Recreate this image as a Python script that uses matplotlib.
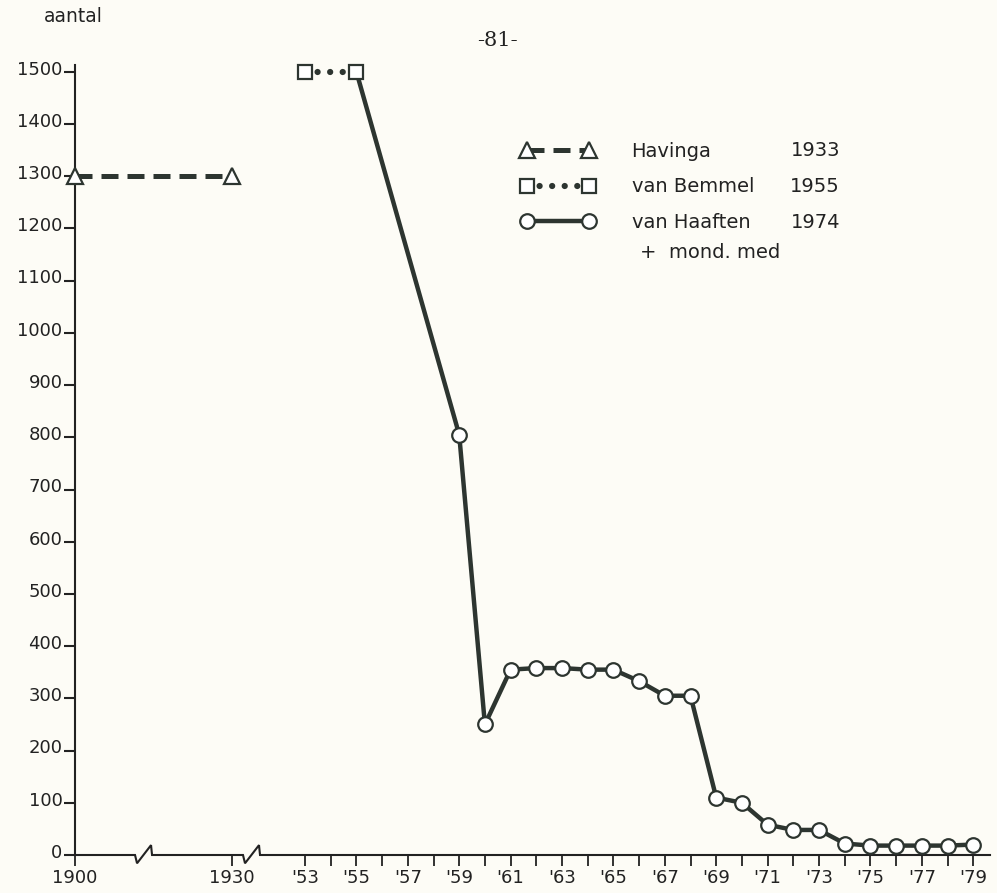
import matplotlib
matplotlib.use('Agg')
import matplotlib.pyplot as plt
import matplotlib.transforms as mtransforms
from matplotlib.lines import Line2D
import numpy as np

# data
havinga_years = [1900, 1930]
havinga_counts = [1300, 1300]

bemmel_years = [1953, 1955]
bemmel_counts = [1500, 1500]

haaften_years = [1955, 1959, 1960, 1961, 1962, 1963, 1964, 1965, 1966, 1967,
                 1968, 1969, 1970, 1971, 1972, 1973, 1974, 1975, 1976, 1977,
                 1978, 1979]
haaften_counts = [1500, 805, 250, 355, 358, 358, 355, 355, 333, 305,
                  305, 110, 100, 58, 48, 48, 22, 18, 18, 18,
                  18, 20]

y_ticks = list(range(0, 1501, 100))
x_ticks = [1900, 1930] + list(range(1953, 1980))
x_labels = ['1900', '1930'] + ["'%02d" % (y % 100) if y % 2 else '' for y in range(1953, 1980)]

legend_names = ['Havinga', 'van Bemmel', 'van Haaften']
legend_years = ['1933', '1955', '1974']

INK = '#2d3530'
TXT = '#222222'
PAPER = '#fdfcf6'

# broken time axis: 1900-1930 squeezed, gap 1930-1953, then one unit per year
P1930 = 157 / 25.7
P1953 = 230 / 25.7


def fwd(x):
    x = np.asarray(x, dtype=float)
    return np.where(x <= 1930, (x - 1900) * P1930 / 30,
                    np.where(x <= 1953, P1930 + (x - 1930) * (P1953 - P1930) / 23,
                             P1953 + (x - 1953)))


def inv(p):
    p = np.asarray(p, dtype=float)
    return np.where(p <= P1930, 1900 + p * 30 / P1930,
                    np.where(p <= P1953, 1930 + (p - P1930) * 23 / (P1953 - P1930),
                             1953 + (p - P1953)))


fig = plt.figure(figsize=(9.97, 8.93), dpi=100, facecolor=PAPER)
ax = fig.add_axes([75 / 997, 38 / 893, 915 / 997, 790 / 893])
ax.set_facecolor(PAPER)
ax.set_xscale('function', functions=(fwd, inv))
ax.set_xlim(1900, float(inv(915 / 25.7)))
ax.set_ylim(0, 1513)

hav_style = dict(color=INK, lw=3.6, dashes=(3.4, 1.8), marker='^', ms=11,
                 mfc='white', mec=INK, mew=1.6)
bem_style = dict(color=INK, lw=4.5, dashes=(0.01, 2.0), dash_capstyle='round',
                 marker='s', ms=10, mfc='white', mec=INK, mew=1.6)
haa_style = dict(color=INK, lw=3.2, marker='o', ms=10.5, mfc='white',
                 mec=INK, mew=1.6)

ax.plot(havinga_years, havinga_counts, clip_on=False, zorder=3, **hav_style)
ax.plot(haaften_years, haaften_counts, clip_on=False, zorder=3,
        markevery=list(range(1, len(haaften_years))), **haa_style)
ax.plot(bemmel_years, bemmel_counts, clip_on=False, zorder=4, **bem_style)

# axes
for s in ['top', 'right', 'bottom']:
    ax.spines[s].set_visible(False)
ax.spines['left'].set_linewidth(1.5)
ax.spines['left'].set_color(TXT)

ax.set_yticks(y_ticks)
ax.set_yticklabels([str(v) for v in y_ticks])
ax.set_xticks(x_ticks)
ax.set_xticklabels(x_labels)
ax.tick_params(axis='y', direction='out', length=8, width=1.5, color=TXT,
               labelsize=13, pad=1, labelcolor=TXT)
ax.tick_params(axis='x', direction='out', length=8, width=1.3, color=TXT,
               labelsize=13, pad=2, labelcolor=TXT)
lift = mtransforms.ScaledTranslation(0, 3 / 72, fig.dpi_scale_trans)
for lab in ax.get_yticklabels():
    lab.set_transform(lab.get_transform() + lift)

# x axis line with the two break marks
bx, by = [0.0], [0.0]
for x0 in [0.0656, 0.1836]:
    bx += [x0, x0 + 0.0022, x0 + 0.0175, x0 + 0.0186]
    by += [0.0, -0.0105, 0.0125, 0.0]
bx.append(1.0)
by.append(0.0)
ax.plot(bx, by, transform=ax.transAxes, color=TXT, lw=1.5,
        clip_on=False, solid_joinstyle='miter')

# legend
handles = [Line2D([], [], **hav_style), Line2D([], [], **bem_style),
           Line2D([], [], **haa_style)]
leg = ax.legend(handles, legend_names, loc='upper left',
                bbox_to_anchor=(511 / 997, 1 - 132 / 893),
                bbox_transform=fig.transFigure, frameon=False, numpoints=2,
                handlelength=3.8, handletextpad=1.9, labelspacing=0.86,
                borderpad=0, fontsize=14)
for t in leg.get_texts():
    t.set_color(TXT)
for i, yr in enumerate(legend_years):
    fig.text(840 / 997, 1 - (151 + 35.5 * i) / 893, yr, ha='right', va='center',
             fontsize=14, color=TXT)
fig.text(640 / 997, 1 - 252 / 893, '+  mond. med', ha='left', va='center',
         fontsize=14, color=TXT)

fig.text(73 / 997, 1 - 17 / 893, 'aantal', ha='center', va='center',
         fontsize=13.5, color=TXT)
fig.text(497 / 997, 1 - 40 / 893, '-81-', ha='center', va='center',
         fontsize=15, family='DejaVu Serif', color=TXT)

fig.savefig('out.png', dpi=100, facecolor=PAPER)
plt.close(fig)
